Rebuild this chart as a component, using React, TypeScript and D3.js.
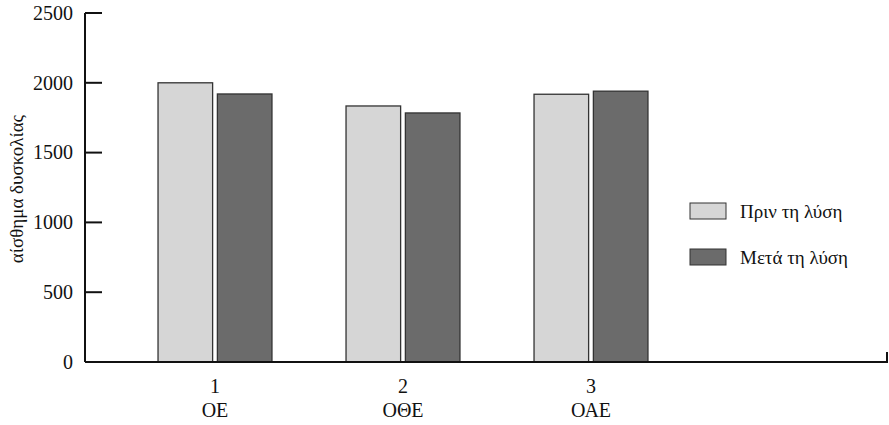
import React from 'react';
import * as d3 from 'd3';

const categories = ['1', '2', '3'];
const categoryNames = ['ΟΕ', 'ΟΘΕ', 'ΟΑΕ'];
const seriesNames = ['Πριν τη λύση', 'Μετά τη λύση'];
const beforeValues = [2000, 1834, 1918];
const afterValues = [1920, 1784, 1940];
const yTicks = [0, 500, 1000, 1500, 2000, 2500];

const seriesFill = ['#d6d6d6', '#6b6b6b'];
const FONT = "'Liberation Serif', monospace";

const settings = {
  width: 889,
  height: 425,
  axisX: 85,
  axisRight: 887,
  top: 13,
  bottom: 362
};

const txt = (size: number) => ({ fontFamily: FONT, fontSize: size });

function App() {
  const y = d3.scaleLinear().domain([0, 2500]).range([settings.bottom, settings.top]);

  const x0 = d3.scaleBand()
    .domain(categories)
    .range([121, 685])
    .paddingInner(0.394)
    .paddingOuter(0.197);

  const x1 = d3.scaleBand()
    .domain(seriesNames)
    .range([0, x0.bandwidth()])
    .paddingInner(0.08);

  const rows = categories.map((c, i) => ({ cat: c, name: categoryNames[i], values: [beforeValues[i], afterValues[i]] }));

  return (
    <svg
      width={settings.width}
      height={settings.height}
      style={{ position: 'absolute', left: 0, top: 0, background: '#fff' }}
    >
      {/* bars */}
      {rows.map(r => (
        <g key={r.cat} transform={`translate(${x0(r.cat)},0)`}>
          {r.values.map((v, j) => (
            <rect
              key={j}
              x={x1(seriesNames[j])}
              y={y(v)}
              width={x1.bandwidth()}
              height={settings.bottom - y(v)}
              fill={seriesFill[j]}
              stroke="#333"
              strokeWidth={1.3}
            />
          ))}
        </g>
      ))}

      {/* y axis */}
      <line x1={settings.axisX} x2={settings.axisX} y1={y(2500)} y2={y(0)} stroke="#111" strokeWidth={2} />
      {yTicks.map(t => (
        <g key={t} transform={`translate(0,${y(t)})`}>
          <line x1={settings.axisX} x2={settings.axisX + 17} stroke="#111" strokeWidth={2} />
          <text x={settings.axisX - 12} dy="0.34em" textAnchor="end" fill="#111" style={txt(20)}>{t}</text>
        </g>
      ))}

      {/* x axis with end tick */}
      <path
        d={`M${settings.axisX},${settings.bottom}H${settings.axisRight}V${settings.bottom - 10}`}
        fill="none"
        stroke="#111"
        strokeWidth={2}
      />
      {rows.map(r => {
        const cx = (x0(r.cat) as number) + x0.bandwidth() / 2;
        return (
          <g key={r.cat}>
            <text x={cx} y={393} textAnchor="middle" fill="#111" style={txt(20)}>{r.cat}</text>
            <text x={cx} y={417} textAnchor="middle" fill="#111" style={txt(20)}>{r.name}</text>
          </g>
        );
      })}

      {/* y title */}
      <text transform="translate(23,189) rotate(-90)" textAnchor="middle" fill="#111" style={txt(19)}>
        αίσθημα δυσκολίας
      </text>

      {/* legend */}
      {seriesNames.map((s, i) => (
        <g key={s} transform={`translate(690,${203 + i * 46})`}>
          <rect width={36} height={16} fill={seriesFill[i]} stroke="#333" strokeWidth={1} />
          <text x={50} y={15} fill="#111" style={txt(19)}>{s}</text>
        </g>
      ))}
    </svg>
  );
}

export default App;
